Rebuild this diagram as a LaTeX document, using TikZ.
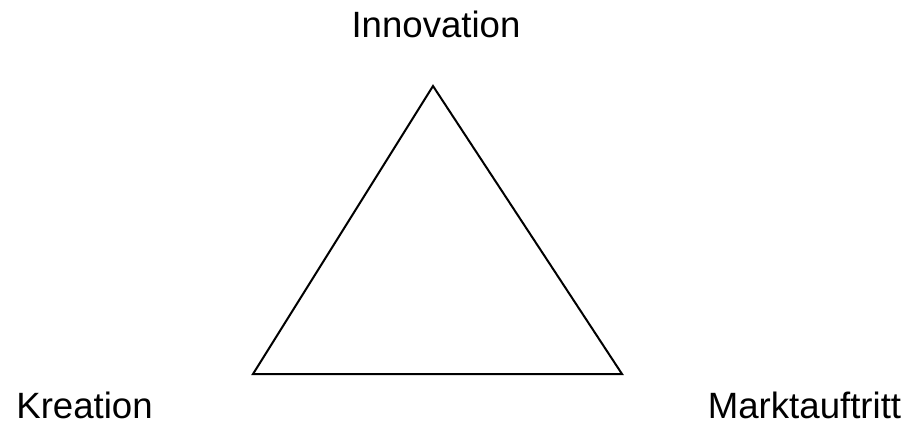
\documentclass[tikz,border=0pt]{standalone}
\usepackage{fontspec}
\setmainfont{Liberation Sans}
\usetikzlibrary{positioning}
\tikzset{
  side/.style={draw=black,line width=1pt,line join=miter},
  lbl/.style={anchor=base,inner sep=0pt,font=\fontsize{18.3}{22}\selectfont},
}
\begin{document}
\begin{tikzpicture}[x=0.5pt,y=-0.5pt]
\useasboundingbox (0,0) rectangle (909,424);
\coordinate (top) at (433,86);
\coordinate (left) at (253,374);
\coordinate (right) at (622,374);
\draw[side] (top) -- (left) -- (right) -- cycle;
\node[lbl] (innov) at (436,37) {Innovation};
\node[lbl] (kreat) at (84.5,418) {Kreation};
\node[lbl] (markt) at (804.5,418) {Marktauftritt};
\end{tikzpicture}
\end{document}
